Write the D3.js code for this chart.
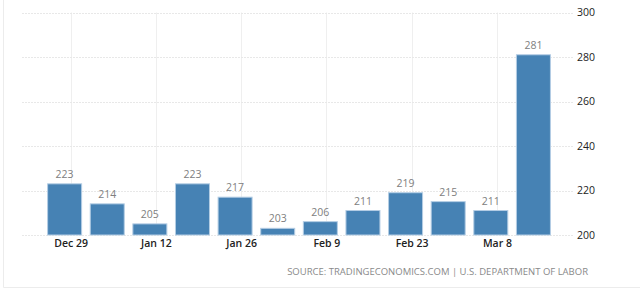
<!DOCTYPE html>
<html>
<head>
<meta charset="utf-8">
<script src="https://cdn.jsdelivr.net/npm/d3@7"></script>
<style>
  body { margin: 0; background: #fff; }
  svg { display: block; font-family: "Open Sans", sans-serif; }
</style>
</head>
<body>
<div id="chart"></div>
<script>
// weekly claims (thousands), week ending
var weeks = ["2019-12-28","2020-01-04","2020-01-11","2020-01-18","2020-01-25","2020-02-01",
             "2020-02-08","2020-02-15","2020-02-22","2020-02-29","2020-03-07","2020-03-14"]
var claims = [223, 214, 205, 223, 217, 203, 206, 211, 219, 215, 211, 281]
var tickDates = ["2019-12-29","2020-01-12","2020-01-26","2020-02-09","2020-02-23","2020-03-08"]
var yTicks = [200, 220, 240, 260, 280, 300]
var source = "SOURCE: TRADINGECONOMICS.COM | U.S. DEPARTMENT OF LABOR"

var width = 640, height = 289
var parse = d3.utcParse("%Y-%m-%d")
var data = weeks.map((w, i) => ({date: parse(w), value: claims[i]}))

var svg = d3.select("#chart")
  .append("svg")
    .attr("width", width)
    .attr("height", height)

// frame
svg.append("path")
  .attr("d", "M3.5,0V287.5H640")
  .attr("fill", "none")
  .attr("stroke", "#ececec")

var x = d3.scaleUtc()
  .domain([parse("2019-12-21"), new Date(Date.UTC(2020, 2, 20, 12))])
  .range([22, 573])

var y = d3.scaleLinear()
  .domain([200, 300])
  .range([235, 12.5])

// vertical grid
svg.append("g")
  .selectAll("line")
  .data(tickDates.map(parse))
  .enter()
  .append("line")
  .attr("x1", d => Math.round(x(d)) + 0.5)
  .attr("x2", d => Math.round(x(d)) + 0.5)
  .attr("y1", y(300))
  .attr("y2", y(200))
  .attr("stroke", "#efefef")

// horizontal grid
svg.append("g")
  .selectAll("line")
  .data(yTicks)
  .enter()
  .append("line")
  .attr("x1", 22)
  .attr("x2", 573)
  .attr("y1", d => Math.round(y(d)) + 0.5)
  .attr("y2", d => Math.round(y(d)) + 0.5)
  .attr("stroke", "#e8e8e8")
  .attr("stroke-dasharray", "2,1")

// y axis on the right
var yAxis = svg.append("g")
  .attr("transform", "translate(573,0)")
  .call(d3.axisRight(y).tickValues(yTicks).tickSize(0).tickPadding(4))
yAxis.select(".domain").remove()
yAxis.selectAll("text")
  .attr("font-family", "Open Sans, sans-serif")
  .attr("font-size", 10.5)
  .attr("fill", "#222")

// x axis
var xAxis = svg.append("g")
  .attr("transform", "translate(0,235)")
  .call(d3.axisBottom(x).tickValues(tickDates.map(parse)).tickSize(0).tickPadding(5)
    .tickFormat(d3.utcFormat("%b %-d")))
xAxis.select(".domain").remove()
xAxis.selectAll("text")
  .attr("font-family", "Open Sans, sans-serif")
  .attr("font-size", 10.5)
  .attr("font-weight", 600)
  .attr("fill", "#222")

var barWidth = 34

// bars
svg.append("g")
  .selectAll("rect")
  .data(data)
  .enter()
  .append("rect")
  .attr("x", d => x(d.date) - barWidth / 2)
  .attr("y", d => y(d.value))
  .attr("width", barWidth)
  .attr("height", d => y(200) - y(d.value))
  .attr("fill", "#4682b4")
  .attr("stroke", "#b4cde4")
  .attr("stroke-width", 1)

// value labels
svg.append("g")
  .selectAll("text")
  .data(data)
  .enter()
  .append("text")
  .attr("x", d => x(d.date))
  .attr("y", d => y(d.value) - 6)
  .attr("text-anchor", "middle")
  .attr("font-size", 10.5)
  .attr("fill", "#808080")
  .text(d => d.value)

// source
svg.append("text")
  .attr("x", 588)
  .attr("y", 275)
  .attr("text-anchor", "end")
  .attr("font-size", 9.5)
  .attr("fill", "#8a8a8a")
  .text(source)
</script>
</body>
</html>
